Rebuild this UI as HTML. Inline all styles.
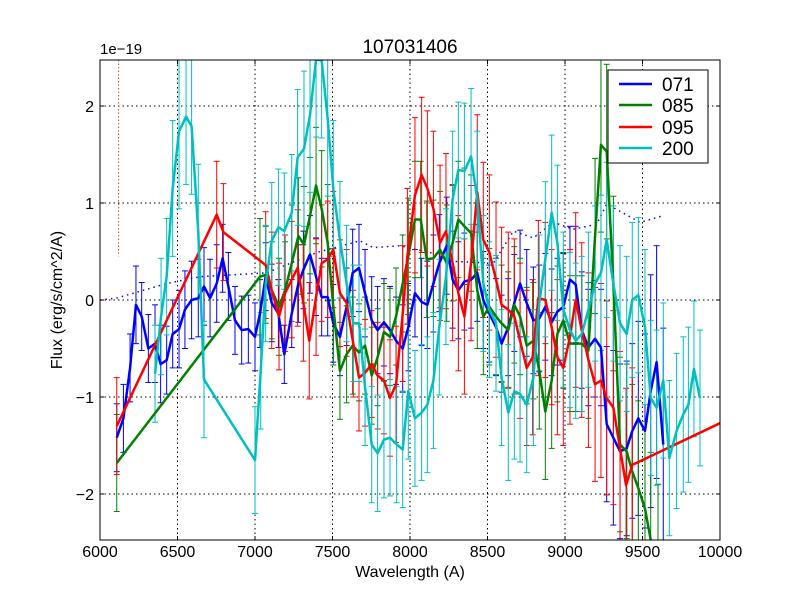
<!DOCTYPE html>
<html><head><meta charset="utf-8"><style>
html,body{margin:0;padding:0;background:#fff;overflow:hidden;width:800px;height:600px}
svg{display:block}
svg text{font-family:"Liberation Sans","DejaVu Sans",sans-serif}
</style></head><body>
<svg id="chart" width="800" height="600" style="display:block;position:absolute;left:0;top:0;overflow:hidden" xmlns="http://www.w3.org/2000/svg">
<rect width="800" height="600" fill="#fff"/>
<defs><clipPath id="pc"><rect x="100" y="60" width="620" height="480"/></clipPath></defs>
<g id="grid"></g>
<g id="marks" clip-path="url(#pc)"></g>
<rect x="100" y="60" width="620" height="480" fill="none" stroke="#000" stroke-width="1"/>
<g id="ticks"></g>
<text x="410" y="53" font-size="19" text-anchor="middle">107031406</text>
<text x="100" y="54" font-size="15">1e−19</text>
<text x="410" y="577" font-size="16" text-anchor="middle">Wavelength (A)</text>
<text x="62" y="300" font-size="16" text-anchor="middle" transform="rotate(-90 62 300)">Flux (erg/s/cm^2/A)</text>
<g>
<rect x="608" y="70" width="100" height="93" fill="#fff" stroke="#000"/>
<g><line x1="619" y1="84" x2="652" y2="84" stroke="#0000ff" stroke-width="2.5"/><text x="662" y="91" font-size="19">071</text></g>
<g><line x1="619" y1="105" x2="652" y2="105" stroke="#008000" stroke-width="2.5"/><text x="662" y="112" font-size="19">085</text></g>
<g><line x1="619" y1="127" x2="652" y2="127" stroke="#ff0000" stroke-width="2.5"/><text x="662" y="134" font-size="19">095</text></g>
<g><line x1="619" y1="148" x2="652" y2="148" stroke="#00bfbf" stroke-width="2.5"/><text x="662" y="155" font-size="19">200</text></g>
</g>
</svg>
<script>
const xTicks=[6000,6500,7000,7500,8000,8500,9000,9500,10000];
const yTicks=[-2,-1,0,1,2];
const yTickLabels=["−2","−1","0","1","2"];
const w071=[6108,6151,6194,6232,6269,6312,6355,6391,6430,6469,6510,6548,6591,6634,6671,6710,6753,6791,6828,6871,6914,6957,7000,7032,7069,7108,7151,7189,7237,7280,7312,7355,7394,7430,7469,7505,7548,7591,7630,7671,7710,7753,7791,7832,7871,7910,7953,7989,8032,8075,8112,8151,8189,8237,8275,8312,8351,8394,8434,8473,8512,8555,8591,8634,8673,8710,8753,8796,8834,8873,8914,8951,8989,9032,9069,9108,9151,9194,9232,9269,9312,9355,9398,9434,9473,9516,9553,9591,9634];
const v071=[-1.42,-1.22,-0.70,-0.05,-0.17,-0.50,-0.45,-0.66,-0.62,-0.35,-0.30,-0.10,0.0,0.02,0.14,0.02,0.17,0.43,0.14,-0.21,-0.31,-0.30,-0.38,-0.14,0.24,-0.03,-0.14,-0.56,-0.14,0.17,0.31,0.47,0.24,0.03,0.03,-0.24,-0.38,-0.07,0.28,0.33,0.07,-0.21,-0.31,-0.23,-0.31,-0.42,-0.50,-0.28,0.07,-0.02,-0.05,0.17,0.38,0.56,0.21,0.10,0.19,0.21,0.28,0,-0.14,-0.28,-0.45,-0.28,-0.03,0.17,-0.03,-0.21,-0.19,-0.07,-0.23,-0.12,-0.07,0.21,0.16,-0.31,-0.49,-0.40,-0.49,-1.28,-1.42,-1.56,-1.53,-1.35,-1.22,-1.35,-0.94,-0.64,-1.49];
const e071=[0.35,0.35,0.35,0.4,0.35,0.35,0.4,0.4,0.35,0.35,0.4,0.4,0.4,0.4,0.4,0.4,0.4,0.35,0.35,0.35,0.35,0.35,0.35,0.35,0.35,0.4,0.35,0.3,0.35,0.4,0.4,0.4,0.4,0.4,0.4,0.4,0.4,0.4,0.45,0.45,0.45,0.45,0.45,0.45,0.45,0.45,0.45,0.45,0.45,0.45,0.45,0.5,0.5,0.5,0.5,0.5,0.5,0.5,0.5,0.5,0.5,0.5,0.5,0.5,0.5,0.55,0.55,0.55,0.55,0.55,0.55,0.55,0.55,0.55,0.6,0.6,0.6,0.6,0.6,0.8,0.9,0.9,0.9,0.9,1.0,1.0,1.2,1.2,1.2];
const w085=[6108,7032,7069,7108,7155,7194,7237,7280,7316,7355,7394,7430,7469,7505,7548,7591,7630,7671,7710,7753,7791,7832,7871,7910,7953,7989,8032,8069,8108,8151,8194,8237,8275,8312,8351,8394,8434,8473,8512,8555,8591,8634,8673,8710,8753,8796,8834,8873,8914,8951,8989,9032,9069,9108,9151,9194,9232,9269,9312,9355,9398,9434,9473,9516,9553,9600];
const v085=[-1.68,0.24,0.26,0.10,-0.07,0.10,0.38,0.66,0.57,0.87,1.18,0.94,0.59,-0.07,-0.73,-0.56,-0.47,-0.54,-0.47,-0.78,-0.59,-0.33,-0.38,-0.17,0.17,0.45,0.83,0.83,0.42,0.43,0.52,0.38,0.59,0.83,0.76,0.69,0.10,-0.17,-0.07,-0.17,-0.24,-0.31,-0.05,-0.17,-0.47,-0.42,-0.73,-1.15,-0.83,-0.35,-0.21,-0.45,-0.45,-0.45,-0.52,0.66,1.60,1.53,0.17,-1.49,-1.56,-1.77,-1.94,-2.15,-2.47,-2.8];
const e085=[0.5,0.6,0.5,0.5,0.5,0.5,0.6,0.6,0.6,0.6,0.6,0.6,0.6,0.6,0.5,0.5,0.5,0.5,0.5,0.5,0.5,0.5,0.5,0.5,0.5,0.6,0.6,0.6,0.6,0.6,0.6,0.6,0.6,0.6,0.6,0.6,0.6,0.6,0.6,0.6,0.6,0.6,0.6,0.6,0.6,0.6,0.6,0.7,0.7,0.7,0.7,0.7,0.7,0.7,0.7,0.8,0.9,0.9,0.9,0.9,0.9,0.9,0.9,0.9,0.9,0.9];
const w095=[6108,6753,6796,7069,7108,7155,7194,7237,7275,7312,7350,7394,7430,7469,7505,7548,7591,7634,7671,7710,7753,7791,7832,7871,7910,7953,7983,8032,8075,8112,8151,8194,8232,8275,8312,8351,8394,8434,8473,8512,8555,8591,8634,8673,8710,8753,8791,8828,8873,8914,8951,8989,9032,9069,9108,9151,9194,9232,9269,9312,9355,9394,9434,10000];
const v095=[-1.30,0.88,0.70,0.36,0.10,-0.17,0.07,0.21,0.33,-0.03,-0.42,0.03,0.38,0.42,0.52,0.07,-0.03,-0.45,-0.80,-0.75,-0.66,-0.78,-0.83,-1.01,-0.87,-0.14,0.45,1.08,1.29,1.15,0.94,0.59,0.71,0.38,0.07,-0.17,0.38,1.11,0.62,0.49,0.21,-0.05,-0.10,-0.17,-0.42,-0.70,-0.59,0.02,0,-0.28,-0.59,-0.70,-0.38,0,-0.31,-0.62,-0.87,-0.83,-1.01,-1.11,-1.53,-1.91,-1.70,-1.27];
const e095=[0.5,0.55,0.5,0.55,0.6,0.55,0.6,0.6,0.6,0.6,0.6,0.6,0.6,0.6,0.6,0.55,0.55,0.55,0.55,0.55,0.55,0.55,0.55,0.6,0.6,0.7,0.7,0.8,0.8,0.8,0.8,0.8,0.8,0.8,0.8,0.8,0.8,0.8,0.8,0.8,0.8,0.8,0.8,0.8,0.8,0.8,0.8,0.8,0.8,0.8,0.8,0.8,0.9,0.9,0.9,0.9,1.0,1.0,1.0,1.0,1.0,1.0,1.0,0];
const w200=[6355,6394,6430,6469,6510,6555,6591,6634,6671,7000,7037,7069,7108,7151,7189,7237,7275,7316,7355,7394,7430,7469,7505,7548,7591,7634,7671,7710,7753,7791,7832,7871,7914,7953,7989,8032,8075,8112,8151,8189,8232,8275,8312,8351,8394,8434,8473,8512,8555,8591,8634,8673,8710,8753,8796,8834,8873,8914,8951,8989,9032,9069,9108,9151,9194,9232,9269,9312,9355,9398,9434,9473,9516,9553,9591,9634,9673,9720,9763,9796,9832,9871];
const v200=[-0.76,-0.17,0.24,1.15,1.74,1.89,1.79,0.70,-0.82,-1.65,-0.73,0.17,0.61,0.75,0.71,0.90,1.47,1.56,1.91,2.48,2.47,1.87,1.15,0.62,0.17,-0.24,-0.24,-0.90,-1.49,-1.58,-1.44,-1.42,-1.49,-1.54,-0.94,-1.22,-1.16,-1.08,-0.83,-0.28,0.24,1.04,1.34,1.33,1.48,1.04,0.17,-0.10,-0.24,-0.80,-1.16,-0.94,-0.97,-1.08,-0.80,-0.03,0.42,0.90,0.59,-0.10,-0.31,-0.42,-0.35,-0.10,0.17,0.28,0.62,0.17,-0.24,-0.35,0,0.05,-0.28,-1.01,-1.11,-0.83,-1.63,-1.35,-1.18,-1.08,-0.71,-1.01];
const e200=[0.5,0.6,0.6,0.7,0.8,0.7,0.7,0.7,0.6,0.55,0.6,0.6,0.6,0.6,0.6,0.6,0.7,0.8,0.8,0.8,0.8,0.8,0.7,0.6,0.6,0.6,0.6,0.6,0.6,0.6,0.6,0.6,0.6,0.6,0.7,0.7,0.7,0.7,0.7,0.7,0.7,0.7,0.7,0.7,0.7,0.7,0.7,0.7,0.7,0.7,0.7,0.7,0.7,0.7,0.7,0.7,0.8,0.8,0.8,0.8,0.8,0.8,0.8,0.8,0.8,0.8,0.8,0.8,0.8,0.8,0.8,0.8,0.8,0.8,0.8,0.8,0.8,0.8,0.8,0.8,0.7,0.7];
const wRef=[6000,6108,6430,6645,7075,7400,7677,7763,7935,8129,8258,8538,8667,8796,8925,9054,9204,9269,9484,9634];
const vRef=[0,0.02,0.17,0.24,0.28,0.49,0.61,0.54,0.56,0.49,0.40,0.38,0.71,0.64,0.80,0.73,0.78,0.99,0.80,0.87];

const NS="http://www.w3.org/2000/svg";
const X=w=>100+(w-6000)*620/4000;
const Y=v=>300-v*97;
const clampY=y=>Math.max(60,Math.min(540,y));
function mk(tag,attrs,parent){const e=document.createElementNS(NS,tag);for(const k in attrs)e.setAttribute(k,attrs[k]);parent.appendChild(e);return e;}
const grid=document.getElementById('grid'),ticks=document.getElementById('ticks'),marks=document.getElementById('marks');
xTicks.forEach(t=>{const x=X(t);
 const g=mk('line',{x1:x,x2:x,y1:60,y2:540,stroke:'#000','stroke-dasharray':'1.5,3'},grid);
 
 
 mk('line',{x1:x,x2:x,y1:540,y2:536,stroke:'#000'},ticks);
 mk('line',{x1:x,x2:x,y1:60,y2:64,stroke:'#000'},ticks);
 const tx=mk('text',{x:x,y:557,'font-size':16,'text-anchor':'middle'},ticks);tx.textContent=t;
 
 
});
yTicks.forEach((t,i)=>{const y=Y(t);
 const g=mk('line',{x1:100,x2:720,y1:y,y2:y,stroke:'#000','stroke-dasharray':'1.5,3'},grid);
 
 
 mk('line',{x1:100,x2:104,y1:y,y2:y,stroke:'#000'},ticks);
 mk('line',{x1:716,x2:720,y1:y,y2:y,stroke:'#000'},ticks);
 const tx=mk('text',{x:94,y:y+6,'font-size':16,'text-anchor':'end'},ticks);tx.textContent=yTickLabels[i];
 
 
});
const vd=mk('line',{x1:X(6120),x2:X(6120),y1:60,y2:Y(0.45),stroke:'#a06040','stroke-dasharray':'1.5,2','stroke-width':1},marks);


const ref=mk('polyline',{points:wRef.map((w,i)=>X(w)+','+Y(vRef[i])).join(' '),fill:'none',stroke:'#0000ff','stroke-dasharray':'1.5,4','stroke-width':1.5},marks);


const series=[['071',w071,v071,e071,'#0000ff'],['085',w085,v085,e085,'#008000'],['095',w095,v095,e095,'#ff0000'],['200',w200,v200,e200,'#00bfbf']];
series.forEach(([n,ws,vs,es,c])=>{
 const g=mk('g',{},marks);
 
 
 ws.forEach((w,i)=>{const e=es[i]??0.5;if(!e)return;const x=X(w);
  const r1=Y(vs[i]+e),r2=Y(vs[i]-e);
  const y1=clampY(r1),y2=clampY(r2);
  if(y1>=y2)return;
  mk('line',{x1:x,x2:x,y1:y1,y2:y2,stroke:c,'stroke-width':1},g);
  if(r1>=60&&r1<=540)mk('line',{x1:x-3,x2:x+3,y1:r1,y2:r1,stroke:c,'stroke-width':1},g);
  if(r2>=60&&r2<=540)mk('line',{x1:x-3,x2:x+3,y1:r2,y2:r2,stroke:c,'stroke-width':1},g);
 });
});
series.forEach(([n,ws,vs,es,c])=>{
 const p=mk('polyline',{points:ws.map((w,i)=>X(w)+','+Y(vs[i])).join(' '),fill:'none',stroke:c,'stroke-width':2.5,'stroke-linejoin':'round'},marks);
 
 
});
</script>
</body></html>
